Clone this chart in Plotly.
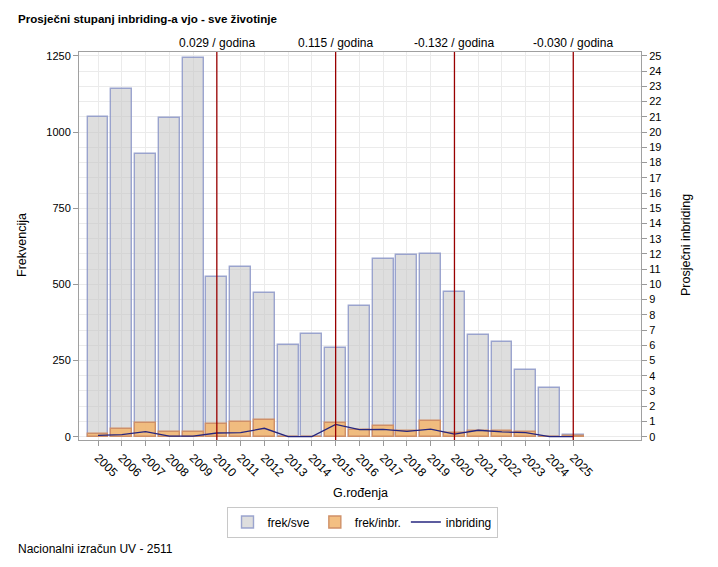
import plotly.graph_objects as go

years = list(range(2005, 2026))
frek_sve = [1050, 1141, 928, 1046, 1244, 525, 556, 473, 301, 336, 292,
            428, 584, 595, 600, 474, 333, 310, 219, 159, 5]
frek_inbr = [10, 25, 44, 15, 15, 42, 47, 55, 0, 0, 45,
             23, 36, 20, 53, 12, 17, 20, 16, 0, 2]
inbriding = [0.09, 0.13, 0.33, 0.03, 0.03, 0.24, 0.26, 0.55, 0.0, 0.0, 0.80,
             0.46, 0.48, 0.35, 0.49, 0.16, 0.42, 0.31, 0.26, 0.0, 0.0]
break_years = [2010, 2015, 2020, 2025]
slope_labels = ["0.029 / godina", "0.115 / godina", "-0.132 / godina", "-0.030 / godina"]

FONT = "Liberation Sans, Arial, sans-serif"
OFF = 8  # default page body margin
PL, PR, PT, PB = 79, 641, 52, 440  # plot area in page pixels
W, H = 718 - OFF, 567 - OFF
L, T = PL - OFF, PT - OFF
R, B = W - (PR - OFF), H - (PB - OFF)
pw, ph = PR - PL, PB - PT


def px(xp):
    return (xp - PL) / pw


def py(yp):
    return (PB - yp) / ph


fig = go.Figure()
fig.add_trace(go.Bar(
    x=years, y=frek_sve, name="frek/sve", width=0.88,
    marker=dict(color="rgba(195,195,195,0.55)", line=dict(color="rgba(140,150,200,0.85)", width=1.4)),
))
fig.add_trace(go.Bar(
    x=years, y=frek_inbr, name="frek/inbr.", width=0.88,
    marker=dict(color="rgba(242,184,116,0.9)", line=dict(color="#CF9068", width=1.4)),
))
fig.add_trace(go.Scatter(
    x=years, y=inbriding, name="inbriding", yaxis="y2", mode="lines",
    line=dict(color="#26267F", width=1.3),
))

shapes = []
for yr in break_years:
    shapes.append(dict(type="line", xref="x", yref="paper", x0=yr, x1=yr, y0=0, y1=1,
                       line=dict(color="#990000", width=1.3), layer="above"))

annotations = []
for yr, lab in zip(break_years, slope_labels):
    annotations.append(dict(x=yr, xref="x", y=1, yref="paper", yanchor="bottom",
                            xanchor="center", text=lab, showarrow=False, yshift=0,
                            font=dict(family=FONT, size=12, color="#000")))
annotations += [
    dict(x=px(16), xref="paper", y=py(18), yref="paper", xanchor="left", yanchor="middle",
         text="<b>Prosječni stupanj inbriding-a vjo - sve životinje</b>", showarrow=False,
         font=dict(family=FONT, size=11.6, color="#000")),
    dict(x=px(16), xref="paper", y=py(549), yref="paper", xanchor="left", yanchor="middle",
         text="Nacionalni izračun UV - 2511", showarrow=False,
         font=dict(family=FONT, size=12, color="#000")),
    dict(x=px(360), xref="paper", y=py(493), yref="paper", xanchor="center", yanchor="middle",
         text="G.rođenja", showarrow=False, font=dict(family=FONT, size=12.5, color="#000")),
    dict(x=px(22), xref="paper", y=py(245), yref="paper", xanchor="center", yanchor="middle",
         text="Frekvencija", showarrow=False, textangle=-90,
         font=dict(family=FONT, size=12.5, color="#000")),
    dict(x=px(686), xref="paper", y=py(245), yref="paper", xanchor="center", yanchor="middle",
         text="Prosječni inbriding", showarrow=False, textangle=-90,
         font=dict(family=FONT, size=12.5, color="#000")),
]

fig.update_layout(
    width=W, height=H,
    margin=dict(l=L, r=R, t=T, b=B, autoexpand=False),
    paper_bgcolor="white", plot_bgcolor="white",
    barmode="overlay", bargap=0,
    font=dict(family=FONT, size=11, color="#000"),
    showlegend=True,
    legend=dict(orientation="h", x=px(362), xanchor="center", y=py(522), yanchor="middle",
                bordercolor="#C8C8C8", borderwidth=1, bgcolor="white",
                font=dict(family=FONT, size=12), itemwidth=30, tracegroupgap=0),
    xaxis=dict(range=[2004.2, 2027.85], tickmode="array", tickvals=years,
               ticktext=[str(y) for y in years], tickangle=45,
               ticks="outside", ticklen=5, tickcolor="#999",
               showgrid=True, gridcolor="#EBEBEB", zeroline=False,
               showline=True, linecolor="#A0A0A0", mirror=True,
               tickfont=dict(family=FONT, size=12)),
    yaxis=dict(range=[-11, 1263], tickmode="array", tickvals=[0, 250, 500, 750, 1000, 1250],
               ticks="outside", ticklen=5, tickcolor="#999",
               showgrid=True, gridcolor="#EBEBEB", zeroline=False,
               minor=dict(tickmode="array", tickvals=list(range(0, 1251, 50)),
                          showgrid=True, gridcolor="#EBEBEB", ticks=""),
               showline=True, linecolor="#A0A0A0",
               tickfont=dict(family=FONT, size=11)),
    yaxis2=dict(range=[-0.22, 25.26], overlaying="y", side="right",
                tickmode="array", tickvals=list(range(0, 26)),
                ticks="outside", ticklen=5, tickcolor="#999",
                showgrid=False, zeroline=False,
                showline=True, linecolor="#A0A0A0",
                tickfont=dict(family=FONT, size=11)),
    shapes=shapes, annotations=annotations,
)

fig.write_html("out.html")
